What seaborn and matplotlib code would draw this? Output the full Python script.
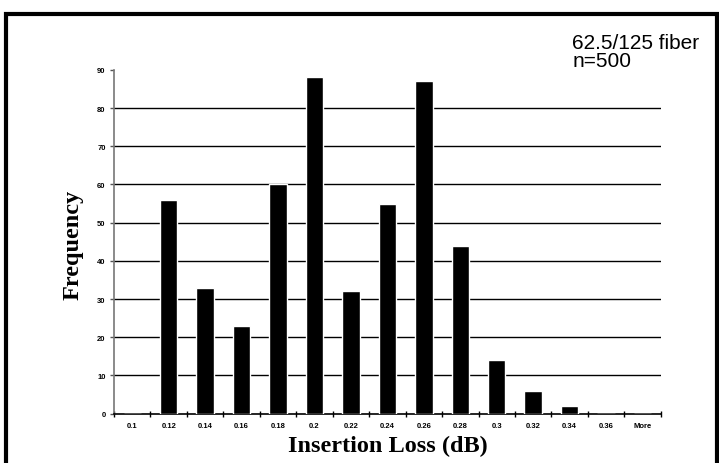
import matplotlib
matplotlib.use("Agg")

import matplotlib.pyplot as plt
import matplotlib.patches as mpatches
import seaborn as sns
import pandas as pd

# histogram bins and counts (n=500)
bins = ["0.1", "0.12", "0.14", "0.16", "0.18", "0.2", "0.22", "0.24",
        "0.26", "0.28", "0.3", "0.32", "0.34", "0.36", "More"]
counts = [0, 56, 33, 23, 60, 88, 32, 55, 87, 44, 14, 6, 2, 0, 0]
y_ticks = [0, 10, 20, 30, 40, 50, 60, 70, 80, 90]

df = pd.DataFrame({"bin": bins, "count": counts})

sns.set_theme(style="white")
plt.rcParams["font.family"] = ["Liberation Sans", "DejaVu Sans"]
plt.rcParams.update({"text.color": "black", "axes.labelcolor": "black",
                     "xtick.color": "black", "ytick.color": "black"})

fig = plt.figure(figsize=(7.19, 4.64), dpi=100)
ax = fig.add_axes([0.1586, 0.1063, 0.919 - 0.1586, 0.8474 - 0.1063])

sns.barplot(data=df, x="bin", y="count", order=bins, color="black",
            width=0.48, saturation=1, ax=ax, zorder=3)

ax.set_xlim(-0.5, len(bins) - 0.5)
ax.set_ylim(0, 90)
ax.set_yticks(y_ticks)
ax.set_yticklabels([str(v) for v in y_ticks], fontsize=5.5, fontweight="bold")
for v in y_ticks[1:-1]:
    ax.axhline(v, color="black", linewidth=1, zorder=1)

ax.set_xticks(range(len(bins)))
ax.set_xticklabels(bins, fontsize=5.5, fontweight="bold")
ax.tick_params(axis="x", length=0, pad=6)
ax.set_xticks([i - 0.5 for i in range(len(bins) + 1)], minor=True)
ax.tick_params(axis="x", which="minor", length=4, width=1, direction="inout",
               color="black", bottom=True)
ax.tick_params(axis="y", length=3, width=1, color="#555555", left=True, pad=3)

for s in ["top", "right"]:
    ax.spines[s].set_visible(False)
ax.spines["left"].set_color("#777777")
ax.spines["left"].set_linewidth(1.2)
ax.spines["bottom"].set_color("black")
ax.spines["bottom"].set_linewidth(1.2)

ax.set_xlabel("Insertion Loss (dB)", family="Liberation Serif",
              fontweight="bold", fontsize=17.5, labelpad=4)
ax.set_ylabel("Frequency", family="Liberation Serif",
              fontweight="bold", fontsize=17.5)
ax.yaxis.set_label_coords(-0.056, 0.495)

fig.text(0.796, 0.887, "62.5/125 fiber\nn=500", fontsize=15,
         ha="left", va="center", linespacing=0.95)

# outer frame around the chart
fig.patches.append(mpatches.Rectangle((0.008, -0.01), 0.989, 0.978,
                                      transform=fig.transFigure, fill=False,
                                      edgecolor="black", linewidth=3))

plt.savefig("out.png", dpi=100)
plt.close()
